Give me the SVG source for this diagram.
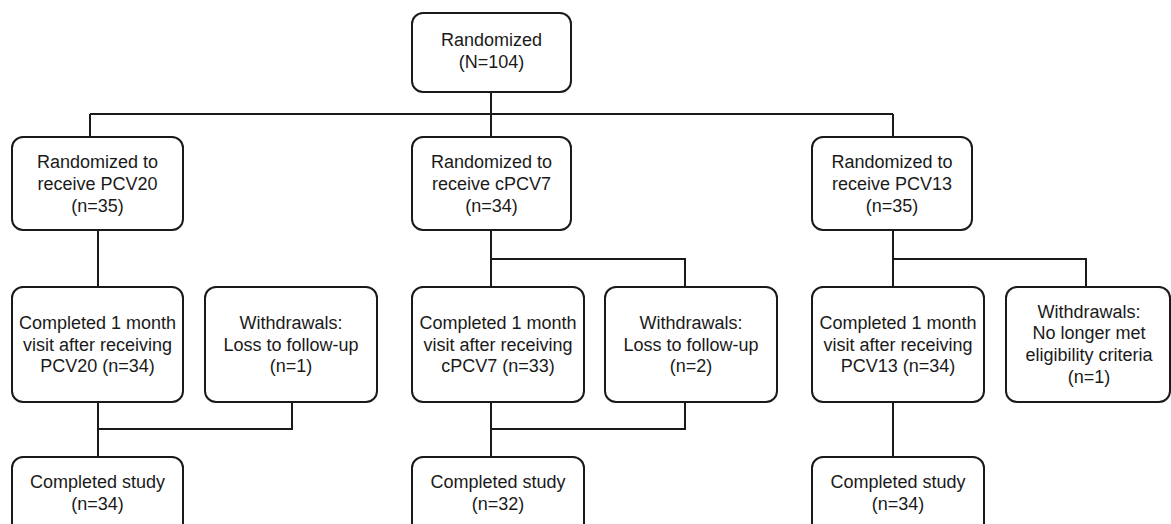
<svg xmlns="http://www.w3.org/2000/svg" width="1171" height="524" viewBox="0 0 1171 524">
<style>
.box{fill:#fff;stroke:#1a1a1a;stroke-width:2}
.c{fill:none;stroke:#1a1a1a;stroke-width:2}
text{font-family:"Liberation Sans",Arial,sans-serif;font-size:18px;fill:#1a1a1a;text-anchor:middle}
</style>
<rect width="1171" height="524" fill="#fff"/>
<g id="connectors">
<path class="c" d="M491,92V114M90,114H893M90,114V137M491,114V137M893,114V137"/>
<path class="c" d="M98,230V287M98,402V457M292,402V429H98"/>
<path class="c" d="M491,230V287M491,259H685V287M491,402V457M685,402V429H491"/>
<path class="c" d="M893,230V287M893,259H1086V287M893,402V457"/>
</g>
<g id="randomized">
<rect class="box" x="412" y="13" width="159" height="79" rx="11"/>
<text x="491.5" y="46">Randomized</text>
<text x="491.5" y="68">(N=104)</text>
</g>
<g id="arm-pcv20">
<rect class="box" x="12" y="137" width="171" height="93" rx="11"/>
<text x="97.5" y="168">Randomized to</text>
<text x="97.5" y="190">receive PCV20</text>
<text x="97.5" y="212">(n=35)</text>
</g>
<g id="arm-cpcv7">
<rect class="box" x="412" y="137" width="159" height="93" rx="11"/>
<text x="491.5" y="168">Randomized to</text>
<text x="491.5" y="190">receive cPCV7</text>
<text x="491.5" y="212">(n=34)</text>
</g>
<g id="arm-pcv13">
<rect class="box" x="812" y="137" width="160" height="93" rx="11"/>
<text x="892" y="168">Randomized to</text>
<text x="892" y="190">receive PCV13</text>
<text x="892" y="212">(n=35)</text>
</g>
<g id="month-pcv20">
<rect class="box" x="12" y="287" width="171" height="115" rx="11"/>
<text x="97.5" y="329">Completed 1 month</text>
<text x="97.5" y="351">visit after receiving</text>
<text x="97.5" y="372">PCV20 (n=34)</text>
</g>
<g id="withdraw-pcv20">
<rect class="box" x="205" y="287" width="172" height="115" rx="11"/>
<text x="291" y="329">Withdrawals:</text>
<text x="291" y="351">Loss to follow-up</text>
<text x="291" y="372">(n=1)</text>
</g>
<g id="month-cpcv7">
<rect class="box" x="412" y="287" width="172" height="115" rx="11"/>
<text x="498" y="329">Completed 1 month</text>
<text x="498" y="351">visit after receiving</text>
<text x="498" y="372">cPCV7 (n=33)</text>
</g>
<g id="withdraw-cpcv7">
<rect class="box" x="605" y="287" width="172" height="115" rx="11"/>
<text x="691" y="329">Withdrawals:</text>
<text x="691" y="351">Loss to follow-up</text>
<text x="691" y="372">(n=2)</text>
</g>
<g id="month-pcv13">
<rect class="box" x="812" y="287" width="172" height="115" rx="11"/>
<text x="898" y="329">Completed 1 month</text>
<text x="898" y="351">visit after receiving</text>
<text x="898" y="372">PCV13 (n=34)</text>
</g>
<g id="withdraw-pcv13">
<rect class="box" x="1006" y="287" width="164" height="115" rx="11"/>
<text x="1089" y="318">Withdrawals:</text>
<text x="1089" y="339">No longer met</text>
<text x="1089" y="361">eligibility criteria</text>
<text x="1089" y="383">(n=1)</text>
</g>
<g id="study-pcv20">
<rect class="box" x="12" y="457" width="171" height="115" rx="11"/>
<text x="97.5" y="488">Completed study</text>
<text x="97.5" y="510">(n=34)</text>
</g>
<g id="study-cpcv7">
<rect class="box" x="412" y="457" width="172" height="115" rx="11"/>
<text x="498" y="488">Completed study</text>
<text x="498" y="510">(n=32)</text>
</g>
<g id="study-pcv13">
<rect class="box" x="812" y="457" width="172" height="115" rx="11"/>
<text x="898" y="488">Completed study</text>
<text x="898" y="510">(n=34)</text>
</g>
</svg>
